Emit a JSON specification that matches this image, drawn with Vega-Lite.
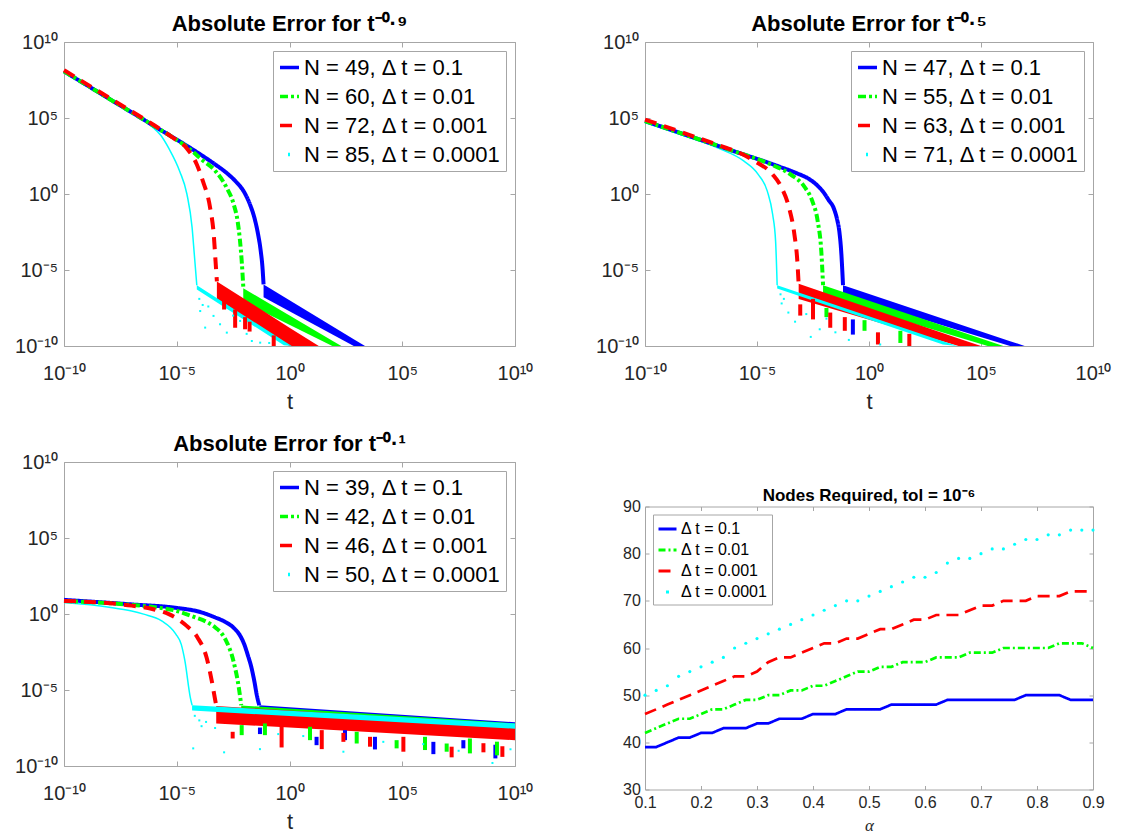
{
  "$schema": "https://vega.github.io/schema/vega-lite/v6.json",
  "background": "white",
  "padding": {"left": 14, "top": 12, "right": 0, "bottom": 0},
  "config": {
    "font": "Liberation Sans",
    "view": {"stroke": "#a6a6a6", "strokeWidth": 1},
    "axis": {"domain": false, "grid": false, "tickColor": "#a6a6a6", "tickWidth": 1, "labelColor": "#262626", "titleColor": "#262626", "titleFontWeight": "normal", "labelFont": "Liberation Sans", "titleFont": "Liberation Sans", "labelFlush": false, "labelOverlap": false},
    "title": {"font": "Liberation Sans", "fontWeight": "bold", "color": "#000000", "anchor": "middle"},
    "legend": {"labelFont": "Liberation Sans", "labelColor": "#000000", "strokeColor": "#a6a6a6", "fillColor": "#ffffff", "symbolType": "stroke", "labelLimit": 400, "cornerRadius": 0, "title": null}
  },
  "datasets": {
    "c1": [
      {"s":"b","lx":-10,"ly":8.07},{"s":"b","lx":-8,"ly":6.27},{"s":"b","lx":-6,"ly":4.47},{"s":"b","lx":-4,"ly":2.65},{"s":"b","lx":-3.3,"ly":1.95},{"s":"b","lx":-2.8,"ly":1.4},{"s":"b","lx":-2.4,"ly":0.85},{"s":"b","lx":-2.0,"ly":0.1},{"s":"b","lx":-1.75,"ly":-0.7},{"s":"b","lx":-1.55,"ly":-1.6},{"s":"b","lx":-1.4,"ly":-2.6},{"s":"b","lx":-1.28,"ly":-3.7},{"s":"b","lx":-1.2,"ly":-4.8},{"s":"b","lx":-1.15,"ly":-5.95},
      {"s":"g","lx":-10,"ly":8.07},{"s":"g","lx":-8,"ly":6.27},{"s":"g","lx":-6,"ly":4.47},{"s":"g","lx":-5,"ly":3.55},{"s":"g","lx":-4.5,"ly":3.05},{"s":"g","lx":-3.92,"ly":2.3},{"s":"g","lx":-3.28,"ly":1.5},{"s":"g","lx":-2.8,"ly":0.45},{"s":"g","lx":-2.48,"ly":-0.65},{"s":"g","lx":-2.3,"ly":-1.8},{"s":"g","lx":-2.2,"ly":-3.0},{"s":"g","lx":-2.12,"ly":-4.4},{"s":"g","lx":-2.05,"ly":-6.1},
      {"s":"r","lx":-10,"ly":8.15},{"s":"r","lx":-8,"ly":6.33},{"s":"r","lx":-6,"ly":4.52},{"s":"r","lx":-5.19,"ly":3.72},{"s":"r","lx":-4.55,"ly":3.0},{"s":"r","lx":-4.11,"ly":1.94},{"s":"r","lx":-3.84,"ly":0.84},{"s":"r","lx":-3.52,"ly":-0.91},{"s":"r","lx":-3.36,"ly":-2.66},{"s":"r","lx":-3.28,"ly":-4.41},{"s":"r","lx":-3.22,"ly":-5.75},
      {"s":"c","lx":-10,"ly":8.0},{"s":"c","lx":-8,"ly":6.2},{"s":"c","lx":-6.15,"ly":4.5},{"s":"c","lx":-5.7,"ly":3.85},{"s":"c","lx":-5.35,"ly":3.0},{"s":"c","lx":-4.87,"ly":1.5},{"s":"c","lx":-4.55,"ly":0.0},{"s":"c","lx":-4.32,"ly":-2.2},{"s":"c","lx":-4.22,"ly":-4.0},{"s":"c","lx":-4.11,"ly":-6.0}
    ],
    "b1": [
      {"s":"b","lx":-1.15,"hi":-5.95,"lo":-6.8},{"s":"b","lx":2.85,"hi":-9.55,"lo":-10},{"s":"b","lx":3.35,"hi":-10,"lo":-10},
      {"s":"g","lx":-2.05,"hi":-6.2,"lo":-7.1},{"s":"g","lx":1.9,"hi":-9.65,"lo":-10},{"s":"g","lx":2.3,"hi":-10,"lo":-10},
      {"s":"r","lx":-3.22,"hi":-5.75,"lo":-6.9},{"s":"r","lx":0.0,"hi":-8.8,"lo":-10},{"s":"r","lx":1.3,"hi":-10,"lo":-10},
      {"s":"c","lx":-4.11,"hi":-6.0,"lo":-6.28},{"s":"c","lx":-0.25,"hi":-9.67,"lo":-9.95},{"s":"c","lx":0.1,"hi":-10,"lo":-10}
    ],
    "k1": [
      {"s":"r","lx":-2.9,"hi":-7.0,"lo":-7.6},{"s":"r","lx":-2.41,"hi":-7.6,"lo":-8.8},{"s":"r","lx":-1.97,"hi":-8.1,"lo":-8.9},{"s":"r","lx":-1.77,"hi":-8.4,"lo":-9.05},{"s":"r","lx":-0.7,"hi":-9.3,"lo":-10}
    ],
    "d1": [
      {"lx":-3.96,"ly":-7.7},{"lx":-3.74,"ly":-8.79},{"lx":-3.08,"ly":-8.57},{"lx":-2.78,"ly":-9.12},{"lx":-1.67,"ly":-9.67},{"lx":-1.3,"ly":-9.78},{"lx":-3.37,"ly":-8.02},{"lx":-2.19,"ly":-8.35},{"lx":-3.6,"ly":-7.4},{"lx":-2.5,"ly":-8.0},{"lx":-1.9,"ly":-9.2},{"lx":-0.9,"ly":-9.8},{"lx":-4.0,"ly":-6.9},{"lx":-3.85,"ly":-7.3}
    ],
    "c2": [
      {"s":"b","lx":-10,"ly":4.8},{"s":"b","lx":-8,"ly":3.8},{"s":"b","lx":-6,"ly":2.8},{"s":"b","lx":-4,"ly":1.8},{"s":"b","lx":-3.2,"ly":1.35},{"s":"b","lx":-2.69,"ly":1.0},{"s":"b","lx":-2.3,"ly":0.55},{"s":"b","lx":-2.05,"ly":0.15},{"s":"b","lx":-1.8,"ly":-0.4},{"s":"b","lx":-1.57,"ly":-0.95},{"s":"b","lx":-1.42,"ly":-1.7},{"s":"b","lx":-1.33,"ly":-2.4},{"s":"b","lx":-1.24,"ly":-3.8},{"s":"b","lx":-1.16,"ly":-6.0},
      {"s":"g","lx":-10,"ly":4.8},{"s":"g","lx":-8,"ly":3.8},{"s":"g","lx":-6,"ly":2.8},{"s":"g","lx":-4.8,"ly":2.2},{"s":"g","lx":-4.3,"ly":1.9},{"s":"g","lx":-3.49,"ly":1.28},{"s":"g","lx":-2.85,"ly":0.41},{"s":"g","lx":-2.53,"ly":-0.47},{"s":"g","lx":-2.29,"ly":-1.79},{"s":"g","lx":-2.13,"ly":-3.76},{"s":"g","lx":-2.05,"ly":-6.0},
      {"s":"r","lx":-10,"ly":4.9},{"s":"r","lx":-8,"ly":3.88},{"s":"r","lx":-6.5,"ly":3.1},{"s":"r","lx":-5.6,"ly":2.58},{"s":"r","lx":-5.1,"ly":2.16},{"s":"r","lx":-4.3,"ly":1.28},{"s":"r","lx":-3.9,"ly":0.41},{"s":"r","lx":-3.57,"ly":-0.9},{"s":"r","lx":-3.33,"ly":-2.66},{"s":"r","lx":-3.2,"ly":-4.41},{"s":"r","lx":-3.14,"ly":-5.95},
      {"s":"c","lx":-10,"ly":4.7},{"s":"c","lx":-8,"ly":3.7},{"s":"c","lx":-7.2,"ly":3.3},{"s":"c","lx":-6.71,"ly":3.0},{"s":"c","lx":-5.58,"ly":2.16},{"s":"c","lx":-4.94,"ly":1.28},{"s":"c","lx":-4.54,"ly":0.19},{"s":"c","lx":-4.3,"ly":-1.35},{"s":"c","lx":-4.17,"ly":-3.1},{"s":"c","lx":-4.1,"ly":-6.0}
    ],
    "b2": [
      {"s":"b","lx":-1.16,"hi":-6.0,"lo":-6.65},{"s":"b","lx":6.3,"hi":-9.68,"lo":-10},{"s":"b","lx":6.95,"hi":-10,"lo":-10},
      {"s":"g","lx":-2.05,"hi":-6.0,"lo":-6.75},{"s":"g","lx":5.3,"hi":-9.65,"lo":-10},{"s":"g","lx":6.0,"hi":-10,"lo":-10},
      {"s":"r","lx":-3.14,"hi":-5.9,"lo":-6.9},{"s":"r","lx":4.0,"hi":-9.5,"lo":-10},{"s":"r","lx":5.0,"hi":-10,"lo":-10},
      {"s":"c","lx":-4.1,"hi":-6.0,"lo":-6.22},{"s":"c","lx":3.3,"hi":-9.68,"lo":-9.9},{"s":"c","lx":3.95,"hi":-10,"lo":-10}
    ],
    "k2": [
      {"s":"b","lx":-0.72,"hi":-8.25,"lo":-9.25},
      {"s":"g","lx":-1.9,"hi":-7.5,"lo":-8.1},{"s":"g","lx":-0.2,"hi":-8.3,"lo":-9.0},{"s":"g","lx":1.4,"hi":-9.0,"lo":-9.8},
      {"s":"r","lx":-3.07,"hi":-7.26,"lo":-8.0},{"s":"r","lx":-2.5,"hi":-6.9,"lo":-8.25},{"s":"r","lx":-1.73,"hi":-7.8,"lo":-8.8},{"s":"r","lx":-1.08,"hi":-8.1,"lo":-9.0},{"s":"r","lx":0.4,"hi":-9.1,"lo":-9.9},{"s":"r","lx":1.8,"hi":-9.2,"lo":-10}
    ],
    "d2": [
      {"lx":-3.9,"ly":-7.2},{"lx":-3.6,"ly":-7.8},{"lx":-3.3,"ly":-8.4},{"lx":-2.8,"ly":-7.9},{"lx":-2.2,"ly":-8.9},{"lx":-1.5,"ly":-9.1},{"lx":-3.8,"ly":-6.9},{"lx":-0.9,"ly":-9.6},{"lx":0.5,"ly":-9.9},{"lx":-2.6,"ly":-9.4},{"lx":-3.95,"ly":-6.6},{"lx":-1.9,"ly":-8.2}
    ],
    "c3": [
      {"s":"b","lx":-10,"ly":0.93},{"s":"b","lx":-7,"ly":0.63},{"s":"b","lx":-5,"ly":0.4},{"s":"b","lx":-4,"ly":0.15},{"s":"b","lx":-3.29,"ly":-0.23},{"s":"b","lx":-2.85,"ly":-0.52},{"s":"b","lx":-2.49,"ly":-0.89},{"s":"b","lx":-2.2,"ly":-1.4},{"s":"b","lx":-2.01,"ly":-1.98},{"s":"b","lx":-1.85,"ly":-2.7},{"s":"b","lx":-1.69,"ly":-3.51},{"s":"b","lx":-1.55,"ly":-4.5},{"s":"b","lx":-1.46,"ly":-5.26},{"s":"b","lx":-1.34,"ly":-6.0},
      {"s":"g","lx":-10,"ly":0.86},{"s":"g","lx":-7,"ly":0.6},{"s":"g","lx":-6,"ly":0.45},{"s":"g","lx":-5,"ly":0.2},{"s":"g","lx":-4.24,"ly":-0.19},{"s":"g","lx":-3.7,"ly":-0.5},{"s":"g","lx":-3.29,"ly":-0.89},{"s":"g","lx":-3.0,"ly":-1.3},{"s":"g","lx":-2.81,"ly":-1.76},{"s":"g","lx":-2.49,"ly":-3.07},{"s":"g","lx":-2.25,"ly":-4.82},{"s":"g","lx":-2.14,"ly":-6.0},
      {"s":"r","lx":-10,"ly":0.86},{"s":"r","lx":-7,"ly":0.55},{"s":"r","lx":-6,"ly":0.3},{"s":"r","lx":-5.35,"ly":-0.01},{"s":"r","lx":-4.56,"ly":-0.78},{"s":"r","lx":-4.08,"ly":-1.54},{"s":"r","lx":-3.68,"ly":-2.85},{"s":"r","lx":-3.45,"ly":-4.38},{"s":"r","lx":-3.29,"ly":-5.7},{"s":"r","lx":-3.25,"ly":-6.0},
      {"s":"c","lx":-10,"ly":0.75},{"s":"c","lx":-8,"ly":0.45},{"s":"c","lx":-7,"ly":0.2},{"s":"c","lx":-6.47,"ly":-0.01},{"s":"c","lx":-5.67,"ly":-0.45},{"s":"c","lx":-5.04,"ly":-1.32},{"s":"c","lx":-4.8,"ly":-2.0},{"s":"c","lx":-4.64,"ly":-3.07},{"s":"c","lx":-4.4,"ly":-5.48},{"s":"c","lx":-4.32,"ly":-6.0}
    ],
    "b3": [
      {"s":"b","lx":-1.34,"hi":-6.0,"lo":-6.8},{"s":"b","lx":10,"hi":-7.12,"lo":-7.9},
      {"s":"g","lx":-2.14,"hi":-6.02,"lo":-7.0},{"s":"g","lx":10,"hi":-7.2,"lo":-8.1},
      {"s":"r","lx":-3.25,"hi":-6.05,"lo":-7.2},{"s":"r","lx":10,"hi":-7.3,"lo":-8.3},
      {"s":"c","lx":-4.32,"hi":-6.0,"lo":-6.35},{"s":"c","lx":10,"hi":-7.2,"lo":-7.55}
    ],
    "k3": [
      {"s":"b","lx":-1.31,"hi":-7.47,"lo":-7.9},{"s":"b","lx":1.2,"hi":-8.08,"lo":-8.63},{"s":"b","lx":2.46,"hi":-7.64,"lo":-8.3},{"s":"b","lx":3.79,"hi":-8.08,"lo":-8.91},{"s":"b","lx":6.38,"hi":-8.41,"lo":-9.22},{"s":"b","lx":7.71,"hi":-8.3,"lo":-8.84},{"s":"b","lx":9.13,"hi":-8.6,"lo":-9.5},
      {"s":"g","lx":-2.12,"hi":-7.31,"lo":-7.97},{"s":"g","lx":-1.09,"hi":-7.2,"lo":-7.97},{"s":"g","lx":0.91,"hi":-7.42,"lo":-8.3},{"s":"g","lx":2.98,"hi":-7.75,"lo":-8.52},{"s":"g","lx":4.75,"hi":-8.3,"lo":-8.84},{"s":"g","lx":6.01,"hi":-8.08,"lo":-8.95},{"s":"g","lx":6.97,"hi":-8.52,"lo":-9.06},{"s":"g","lx":8.0,"hi":-8.19,"lo":-9.17},{"s":"g","lx":9.2,"hi":-8.4,"lo":-9.3},
      {"s":"r","lx":-2.52,"hi":-7.75,"lo":-8.19},{"s":"r","lx":-0.35,"hi":-7.31,"lo":-8.78},{"s":"r","lx":1.43,"hi":-7.64,"lo":-8.89},{"s":"r","lx":2.39,"hi":-7.82,"lo":-8.41},{"s":"r","lx":3.57,"hi":-8.08,"lo":-8.73},{"s":"r","lx":5.05,"hi":-8.08,"lo":-9.06},{"s":"r","lx":7.19,"hi":-8.73,"lo":-9.43},{"s":"r","lx":8.6,"hi":-8.5,"lo":-9.1},{"s":"r","lx":9.44,"hi":-8.7,"lo":-9.4}
    ],
    "d3": [
      {"lx":-4.27,"ly":-8.84},{"lx":-3.9,"ly":-7.38},{"lx":-1.31,"ly":-8.89},{"lx":0.61,"ly":-8.03},{"lx":2.39,"ly":-9.06},{"lx":4.16,"ly":-8.41},{"lx":5.93,"ly":-8.56},{"lx":-4.2,"ly":-6.7},{"lx":-4.0,"ly":-7.0},{"lx":-3.7,"ly":-7.1},{"lx":-3.3,"ly":-7.5},{"lx":-2.9,"ly":-9.1},{"lx":9.0,"ly":-9.8},{"lx":9.8,"ly":-8.9},{"lx":7.5,"ly":-9.0},{"lx":-0.5,"ly":-7.9}
    ],
    "n4": [
      {"s":"b","a":0.1,"n":39},{"s":"b","a":0.12,"n":39},{"s":"b","a":0.14,"n":40},{"s":"b","a":0.16,"n":41},{"s":"b","a":0.18,"n":41},{"s":"b","a":0.2,"n":42},{"s":"b","a":0.22,"n":42},{"s":"b","a":0.24,"n":43},{"s":"b","a":0.26,"n":43},{"s":"b","a":0.28,"n":43},{"s":"b","a":0.3,"n":44},{"s":"b","a":0.32,"n":44},{"s":"b","a":0.34,"n":45},{"s":"b","a":0.36,"n":45},{"s":"b","a":0.38,"n":45},{"s":"b","a":0.4,"n":46},{"s":"b","a":0.42,"n":46},{"s":"b","a":0.44,"n":46},{"s":"b","a":0.46,"n":47},{"s":"b","a":0.48,"n":47},{"s":"b","a":0.5,"n":47},{"s":"b","a":0.52,"n":47},{"s":"b","a":0.54,"n":48},{"s":"b","a":0.56,"n":48},{"s":"b","a":0.58,"n":48},{"s":"b","a":0.6,"n":48},{"s":"b","a":0.62,"n":48},{"s":"b","a":0.64,"n":49},{"s":"b","a":0.66,"n":49},{"s":"b","a":0.68,"n":49},{"s":"b","a":0.7,"n":49},{"s":"b","a":0.72,"n":49},{"s":"b","a":0.74,"n":49},{"s":"b","a":0.76,"n":49},{"s":"b","a":0.78,"n":50},{"s":"b","a":0.8,"n":50},{"s":"b","a":0.82,"n":50},{"s":"b","a":0.84,"n":50},{"s":"b","a":0.86,"n":49},{"s":"b","a":0.88,"n":49},{"s":"b","a":0.9,"n":49},
      {"s":"g","a":0.1,"n":42},{"s":"g","a":0.12,"n":43},{"s":"g","a":0.14,"n":44},{"s":"g","a":0.16,"n":45},{"s":"g","a":0.18,"n":45},{"s":"g","a":0.2,"n":46},{"s":"g","a":0.22,"n":47},{"s":"g","a":0.24,"n":47},{"s":"g","a":0.26,"n":48},{"s":"g","a":0.28,"n":49},{"s":"g","a":0.3,"n":49},{"s":"g","a":0.32,"n":50},{"s":"g","a":0.34,"n":50},{"s":"g","a":0.36,"n":51},{"s":"g","a":0.38,"n":51},{"s":"g","a":0.4,"n":52},{"s":"g","a":0.42,"n":52},{"s":"g","a":0.44,"n":53},{"s":"g","a":0.46,"n":54},{"s":"g","a":0.48,"n":55},{"s":"g","a":0.5,"n":55},{"s":"g","a":0.52,"n":56},{"s":"g","a":0.54,"n":56},{"s":"g","a":0.56,"n":57},{"s":"g","a":0.58,"n":57},{"s":"g","a":0.6,"n":57},{"s":"g","a":0.62,"n":58},{"s":"g","a":0.64,"n":58},{"s":"g","a":0.66,"n":58},{"s":"g","a":0.68,"n":59},{"s":"g","a":0.7,"n":59},{"s":"g","a":0.72,"n":59},{"s":"g","a":0.74,"n":60},{"s":"g","a":0.76,"n":60},{"s":"g","a":0.78,"n":60},{"s":"g","a":0.8,"n":60},{"s":"g","a":0.82,"n":60},{"s":"g","a":0.84,"n":61},{"s":"g","a":0.86,"n":61},{"s":"g","a":0.88,"n":61},{"s":"g","a":0.9,"n":60},
      {"s":"r","a":0.1,"n":46},{"s":"r","a":0.12,"n":47},{"s":"r","a":0.14,"n":48},{"s":"r","a":0.16,"n":49},{"s":"r","a":0.18,"n":50},{"s":"r","a":0.2,"n":51},{"s":"r","a":0.22,"n":52},{"s":"r","a":0.24,"n":53},{"s":"r","a":0.26,"n":54},{"s":"r","a":0.28,"n":54},{"s":"r","a":0.3,"n":55},{"s":"r","a":0.32,"n":57},{"s":"r","a":0.34,"n":58},{"s":"r","a":0.36,"n":58},{"s":"r","a":0.38,"n":59},{"s":"r","a":0.4,"n":60},{"s":"r","a":0.42,"n":61},{"s":"r","a":0.44,"n":61},{"s":"r","a":0.46,"n":62},{"s":"r","a":0.48,"n":62},{"s":"r","a":0.5,"n":63},{"s":"r","a":0.52,"n":64},{"s":"r","a":0.54,"n":64},{"s":"r","a":0.56,"n":65},{"s":"r","a":0.58,"n":66},{"s":"r","a":0.6,"n":66},{"s":"r","a":0.62,"n":67},{"s":"r","a":0.64,"n":67},{"s":"r","a":0.66,"n":67},{"s":"r","a":0.68,"n":68},{"s":"r","a":0.7,"n":69},{"s":"r","a":0.72,"n":69},{"s":"r","a":0.74,"n":70},{"s":"r","a":0.76,"n":70},{"s":"r","a":0.78,"n":70},{"s":"r","a":0.8,"n":71},{"s":"r","a":0.82,"n":71},{"s":"r","a":0.84,"n":71},{"s":"r","a":0.86,"n":72},{"s":"r","a":0.88,"n":72},{"s":"r","a":0.9,"n":72},
      {"s":"c","a":0.1,"n":50},{"s":"c","a":0.12,"n":51},{"s":"c","a":0.14,"n":52},{"s":"c","a":0.16,"n":54},{"s":"c","a":0.18,"n":55},{"s":"c","a":0.2,"n":56},{"s":"c","a":0.22,"n":57},{"s":"c","a":0.24,"n":58},{"s":"c","a":0.26,"n":60},{"s":"c","a":0.28,"n":61},{"s":"c","a":0.3,"n":62},{"s":"c","a":0.32,"n":63},{"s":"c","a":0.34,"n":64},{"s":"c","a":0.36,"n":65},{"s":"c","a":0.38,"n":66},{"s":"c","a":0.4,"n":67},{"s":"c","a":0.42,"n":68},{"s":"c","a":0.44,"n":69},{"s":"c","a":0.46,"n":70},{"s":"c","a":0.48,"n":70},{"s":"c","a":0.5,"n":71},{"s":"c","a":0.52,"n":72},{"s":"c","a":0.54,"n":73},{"s":"c","a":0.56,"n":74},{"s":"c","a":0.58,"n":75},{"s":"c","a":0.6,"n":75},{"s":"c","a":0.62,"n":76},{"s":"c","a":0.64,"n":78},{"s":"c","a":0.66,"n":79},{"s":"c","a":0.68,"n":79},{"s":"c","a":0.7,"n":80},{"s":"c","a":0.72,"n":81},{"s":"c","a":0.74,"n":81},{"s":"c","a":0.76,"n":82},{"s":"c","a":0.78,"n":83},{"s":"c","a":0.8,"n":83},{"s":"c","a":0.82,"n":84},{"s":"c","a":0.84,"n":84},{"s":"c","a":0.86,"n":85},{"s":"c","a":0.88,"n":85},{"s":"c","a":0.9,"n":85}
    ]
  },
  "resolve": {"scale": {"color": "independent", "strokeDash": "independent"}},
  "spacing": 61,
  "hconcat": [
    {
      "spacing": 19,
      "resolve": {"scale": {"color": "independent", "strokeDash": "independent"}},
      "vconcat": [
        {
          "width": 451, "height": 304,
          "title": {"text": "Absolute Error for t⁻⁰·⁹", "fontSize": 22, "offset": -4},
          "resolve": {"axis": {"x": "independent", "y": "independent"}},
          "layer": [
            {"mark": {"type": "rule", "color": "#999999", "strokeWidth": 1, "strokeDash": [5, 3]}, "encoding": {"y": {"datum": -6, "type": "quantitative", "scale": {"domain": [-10, 10], "nice": false, "zero": false}, "axis": null}}},
            {"data": {"name": "b1"}, "mark": {"type": "area", "clip": true, "opacity": 1}, "encoding": {
              "x": {"field": "lx", "type": "quantitative", "scale": {"domain": [-10, 10], "nice": false, "zero": false}, "axis": {"orient": "top", "values": [-10, -5, 0, 5, 10], "labels": false, "tickSize": -5, "title": null}},
              "y": {"field": "hi", "type": "quantitative", "stack": null, "axis": {"orient": "right", "values": [-10, -5, 0, 5, 10], "labels": false, "tickSize": -5, "title": null}},
              "y2": {"field": "lo"},
              "fill": {"field": "s", "type": "nominal", "scale": {"domain": ["b", "g", "r", "c"], "range": ["#0000ff", "#00ff00", "#ff0000", "#00ffff"]}, "legend": null}}},
            {"data": {"name": "k1"}, "mark": {"type": "rule", "strokeWidth": 4, "clip": true}, "encoding": {
              "x": {"field": "lx", "type": "quantitative", "axis": null},
              "y": {"field": "hi", "type": "quantitative", "axis": null},
              "y2": {"field": "lo"},
              "stroke": {"field": "s", "type": "nominal", "scale": {"domain": ["b", "g", "r", "c"], "range": ["#0000ff", "#00ff00", "#ff0000", "#00ffff"]}, "legend": null}}},
            {"data": {"name": "d1"}, "mark": {"type": "square", "size": 4, "color": "#00ffff", "opacity": 1}, "encoding": {
              "x": {"field": "lx", "type": "quantitative", "axis": null},
              "y": {"field": "ly", "type": "quantitative", "axis": null}}},
            {"data": {"name": "c1"}, "transform": [{"filter": "datum.s == 'c'"}], "mark": {"type": "line", "color": "#00ffff", "strokeWidth": 1.5, "interpolate": "monotone"}, "encoding": {
              "x": {"field": "lx", "type": "quantitative", "axis": null},
              "y": {"field": "ly", "type": "quantitative", "axis": null}}},
            {"data": {"name": "c1"}, "transform": [{"filter": "datum.s != 'c'"}], "mark": {"type": "line", "strokeWidth": 4, "interpolate": "monotone"}, "encoding": {
              "x": {"field": "lx", "type": "quantitative", "axis": {"orient": "bottom", "values": [-10, -5, 0, 5, 10], "labelExpr": "datum.value == -10 ? '10⁻¹⁰' : datum.value == -5 ? '10⁻⁵' : datum.value == 0 ? '10⁰' : datum.value == 5 ? '10⁵' : '10¹⁰'", "labelFontSize": 20, "labelPadding": 22, "tickSize": -5, "title": "t", "titleFontSize": 22, "titlePadding": 8}},
              "y": {"field": "ly", "type": "quantitative", "axis": {"orient": "left", "values": [-10, -5, 0, 5, 10], "labelExpr": "datum.value == -10 ? '10⁻¹⁰' : datum.value == -5 ? '10⁻⁵' : datum.value == 0 ? '10⁰' : datum.value == 5 ? '10⁵' : '10¹⁰'", "labelFontSize": 20, "labelPadding": 11.5, "tickSize": -5, "title": null}},
              "color": {"field": "s", "type": "nominal", "scale": {"domain": ["b", "g", "r", "c"], "range": ["#0000ff", "#00ff00", "#ff0000", "#00ffff"]}, "legend": {"orient": "top-right", "offset": 9, "labelFontSize": 22, "symbolSize": 361, "symbolStrokeWidth": 3.5, "padding": 5, "rowPadding": 6, "labelOffset": 3, "labelExpr": "datum.label == 'b' ? 'N = 49, Δ t = 0.1' : datum.label == 'g' ? 'N = 60, Δ t = 0.01' : datum.label == 'r' ? 'N = 72, Δ t = 0.001' : 'N = 85, Δ t = 0.0001'"}},
              "strokeDash": {"field": "s", "type": "nominal", "scale": {"domain": ["b", "g", "r", "c"], "range": [[1, 0], [8, 3, 3, 3], [12, 8], [0, 8, 2, 40]]}, "legend": {"orient": "top-right", "offset": 9, "labelFontSize": 22, "symbolSize": 361, "symbolStrokeWidth": 3.5, "padding": 5, "rowPadding": 6, "labelOffset": 3, "labelExpr": "datum.label == 'b' ? 'N = 49, Δ t = 0.1' : datum.label == 'g' ? 'N = 60, Δ t = 0.01' : datum.label == 'r' ? 'N = 72, Δ t = 0.001' : 'N = 85, Δ t = 0.0001'"}}}}
          ]
        },
        {
          "width": 451, "height": 304,
          "title": {"text": "Absolute Error for t⁻⁰·¹", "fontSize": 22, "offset": -4},
          "resolve": {"axis": {"x": "independent", "y": "independent"}},
          "layer": [
            {"mark": {"type": "rule", "color": "#999999", "strokeWidth": 1, "strokeDash": [5, 3]}, "encoding": {"y": {"datum": -6, "type": "quantitative", "scale": {"domain": [-10, 10], "nice": false, "zero": false}, "axis": null}}},
            {"data": {"name": "b3"}, "mark": {"type": "area", "clip": true, "opacity": 1}, "encoding": {
              "x": {"field": "lx", "type": "quantitative", "scale": {"domain": [-10, 10], "nice": false, "zero": false}, "axis": {"orient": "top", "values": [-10, -5, 0, 5, 10], "labels": false, "tickSize": -5, "title": null}},
              "y": {"field": "hi", "type": "quantitative", "stack": null, "axis": {"orient": "right", "values": [-10, -5, 0, 5, 10], "labels": false, "tickSize": -5, "title": null}},
              "y2": {"field": "lo"},
              "fill": {"field": "s", "type": "nominal", "scale": {"domain": ["b", "g", "r", "c"], "range": ["#0000ff", "#00ff00", "#ff0000", "#00ffff"]}, "legend": null}}},
            {"data": {"name": "k3"}, "mark": {"type": "rule", "strokeWidth": 4, "clip": true}, "encoding": {
              "x": {"field": "lx", "type": "quantitative", "axis": null},
              "y": {"field": "hi", "type": "quantitative", "axis": null},
              "y2": {"field": "lo"},
              "stroke": {"field": "s", "type": "nominal", "scale": {"domain": ["b", "g", "r", "c"], "range": ["#0000ff", "#00ff00", "#ff0000", "#00ffff"]}, "legend": null}}},
            {"data": {"name": "d3"}, "mark": {"type": "square", "size": 4, "color": "#00ffff", "opacity": 1}, "encoding": {
              "x": {"field": "lx", "type": "quantitative", "axis": null},
              "y": {"field": "ly", "type": "quantitative", "axis": null}}},
            {"data": {"name": "c3"}, "transform": [{"filter": "datum.s == 'c'"}], "mark": {"type": "line", "color": "#00ffff", "strokeWidth": 1.5, "interpolate": "monotone"}, "encoding": {
              "x": {"field": "lx", "type": "quantitative", "axis": null},
              "y": {"field": "ly", "type": "quantitative", "axis": null}}},
            {"data": {"name": "c3"}, "transform": [{"filter": "datum.s != 'c'"}], "mark": {"type": "line", "strokeWidth": 4, "interpolate": "monotone"}, "encoding": {
              "x": {"field": "lx", "type": "quantitative", "axis": {"orient": "bottom", "values": [-10, -5, 0, 5, 10], "labelExpr": "datum.value == -10 ? '10⁻¹⁰' : datum.value == -5 ? '10⁻⁵' : datum.value == 0 ? '10⁰' : datum.value == 5 ? '10⁵' : '10¹⁰'", "labelFontSize": 20, "labelPadding": 22, "tickSize": -5, "title": "t", "titleFontSize": 22, "titlePadding": 8}},
              "y": {"field": "ly", "type": "quantitative", "axis": {"orient": "left", "values": [-10, -5, 0, 5, 10], "labelExpr": "datum.value == -10 ? '10⁻¹⁰' : datum.value == -5 ? '10⁻⁵' : datum.value == 0 ? '10⁰' : datum.value == 5 ? '10⁵' : '10¹⁰'", "labelFontSize": 20, "labelPadding": 11.5, "tickSize": -5, "title": null}},
              "color": {"field": "s", "type": "nominal", "scale": {"domain": ["b", "g", "r", "c"], "range": ["#0000ff", "#00ff00", "#ff0000", "#00ffff"]}, "legend": {"orient": "top-right", "offset": 9, "labelFontSize": 22, "symbolSize": 361, "symbolStrokeWidth": 3.5, "padding": 5, "rowPadding": 6, "labelOffset": 3, "labelExpr": "datum.label == 'b' ? 'N = 39, Δ t = 0.1' : datum.label == 'g' ? 'N = 42, Δ t = 0.01' : datum.label == 'r' ? 'N = 46, Δ t = 0.001' : 'N = 50, Δ t = 0.0001'"}},
              "strokeDash": {"field": "s", "type": "nominal", "scale": {"domain": ["b", "g", "r", "c"], "range": [[1, 0], [8, 3, 3, 3], [12, 8], [0, 8, 2, 40]]}, "legend": {"orient": "top-right", "offset": 9, "labelFontSize": 22, "symbolSize": 361, "symbolStrokeWidth": 3.5, "padding": 5, "rowPadding": 6, "labelOffset": 3, "labelExpr": "datum.label == 'b' ? 'N = 39, Δ t = 0.1' : datum.label == 'g' ? 'N = 42, Δ t = 0.01' : datum.label == 'r' ? 'N = 46, Δ t = 0.001' : 'N = 50, Δ t = 0.0001'"}}}}
          ]
        }
      ]
    },
    {
      "spacing": 72.5,
      "resolve": {"scale": {"color": "independent", "strokeDash": "independent"}},
      "vconcat": [
        {
          "width": 448, "height": 304,
          "title": {"text": "Absolute Error for t⁻⁰·⁵", "fontSize": 22, "offset": -4},
          "resolve": {"axis": {"x": "independent", "y": "independent"}},
          "layer": [
            {"mark": {"type": "rule", "color": "#999999", "strokeWidth": 1, "strokeDash": [5, 3]}, "encoding": {"y": {"datum": -6, "type": "quantitative", "scale": {"domain": [-10, 10], "nice": false, "zero": false}, "axis": null}}},
            {"data": {"name": "b2"}, "mark": {"type": "area", "clip": true, "opacity": 1}, "encoding": {
              "x": {"field": "lx", "type": "quantitative", "scale": {"domain": [-10, 10], "nice": false, "zero": false}, "axis": {"orient": "top", "values": [-10, -5, 0, 5, 10], "labels": false, "tickSize": -5, "title": null}},
              "y": {"field": "hi", "type": "quantitative", "stack": null, "axis": {"orient": "right", "values": [-10, -5, 0, 5, 10], "labels": false, "tickSize": -5, "title": null}},
              "y2": {"field": "lo"},
              "fill": {"field": "s", "type": "nominal", "scale": {"domain": ["b", "g", "r", "c"], "range": ["#0000ff", "#00ff00", "#ff0000", "#00ffff"]}, "legend": null}}},
            {"data": {"name": "k2"}, "mark": {"type": "rule", "strokeWidth": 4, "clip": true}, "encoding": {
              "x": {"field": "lx", "type": "quantitative", "axis": null},
              "y": {"field": "hi", "type": "quantitative", "axis": null},
              "y2": {"field": "lo"},
              "stroke": {"field": "s", "type": "nominal", "scale": {"domain": ["b", "g", "r", "c"], "range": ["#0000ff", "#00ff00", "#ff0000", "#00ffff"]}, "legend": null}}},
            {"data": {"name": "d2"}, "mark": {"type": "square", "size": 4, "color": "#00ffff", "opacity": 1}, "encoding": {
              "x": {"field": "lx", "type": "quantitative", "axis": null},
              "y": {"field": "ly", "type": "quantitative", "axis": null}}},
            {"data": {"name": "c2"}, "transform": [{"filter": "datum.s == 'c'"}], "mark": {"type": "line", "color": "#00ffff", "strokeWidth": 1.5, "interpolate": "monotone"}, "encoding": {
              "x": {"field": "lx", "type": "quantitative", "axis": null},
              "y": {"field": "ly", "type": "quantitative", "axis": null}}},
            {"data": {"name": "c2"}, "transform": [{"filter": "datum.s != 'c'"}], "mark": {"type": "line", "strokeWidth": 4, "interpolate": "monotone"}, "encoding": {
              "x": {"field": "lx", "type": "quantitative", "axis": {"orient": "bottom", "values": [-10, -5, 0, 5, 10], "labelExpr": "datum.value == -10 ? '10⁻¹⁰' : datum.value == -5 ? '10⁻⁵' : datum.value == 0 ? '10⁰' : datum.value == 5 ? '10⁵' : '10¹⁰'", "labelFontSize": 20, "labelPadding": 22, "tickSize": -5, "title": "t", "titleFontSize": 22, "titlePadding": 8}},
              "y": {"field": "ly", "type": "quantitative", "axis": {"orient": "left", "values": [-10, -5, 0, 5, 10], "labelExpr": "datum.value == -10 ? '10⁻¹⁰' : datum.value == -5 ? '10⁻⁵' : datum.value == 0 ? '10⁰' : datum.value == 5 ? '10⁵' : '10¹⁰'", "labelFontSize": 20, "labelPadding": 11.5, "tickSize": -5, "title": null}},
              "color": {"field": "s", "type": "nominal", "scale": {"domain": ["b", "g", "r", "c"], "range": ["#0000ff", "#00ff00", "#ff0000", "#00ffff"]}, "legend": {"orient": "top-right", "offset": 9, "labelFontSize": 22, "symbolSize": 361, "symbolStrokeWidth": 3.5, "padding": 5, "rowPadding": 6, "labelOffset": 3, "labelExpr": "datum.label == 'b' ? 'N = 47, Δ t = 0.1' : datum.label == 'g' ? 'N = 55, Δ t = 0.01' : datum.label == 'r' ? 'N = 63, Δ t = 0.001' : 'N = 71, Δ t = 0.0001'"}},
              "strokeDash": {"field": "s", "type": "nominal", "scale": {"domain": ["b", "g", "r", "c"], "range": [[1, 0], [8, 3, 3, 3], [12, 8], [0, 8, 2, 40]]}, "legend": {"orient": "top-right", "offset": 9, "labelFontSize": 22, "symbolSize": 361, "symbolStrokeWidth": 3.5, "padding": 5, "rowPadding": 6, "labelOffset": 3, "labelExpr": "datum.label == 'b' ? 'N = 47, Δ t = 0.1' : datum.label == 'g' ? 'N = 55, Δ t = 0.01' : datum.label == 'r' ? 'N = 63, Δ t = 0.001' : 'N = 71, Δ t = 0.0001'"}}}}
          ]
        },
        {
          "width": 448, "height": 283,
          "title": {"text": "Nodes Required, tol = 10⁻⁶", "fontSize": 17, "offset": -6},
          "data": {"name": "n4"},
          "resolve": {"axis": {"x": "independent", "y": "independent"}},
          "layer": [
            {"transform": [{"filter": "datum.s != 'c'"}], "mark": {"type": "line", "strokeWidth": 2.7}, "encoding": {
              "x": {"field": "a", "type": "quantitative", "scale": {"domain": [0.1, 0.9], "nice": false, "zero": false}, "axis": {"orient": "bottom", "values": [0.1, 0.2, 0.3, 0.4, 0.5, 0.6, 0.7, 0.8, 0.9], "format": ".1f", "labelFontSize": 16, "labelPadding": 9, "tickSize": -4, "title": "α", "titleFont": "Liberation Serif", "titleFontStyle": "italic", "titleFontSize": 17, "titlePadding": 7}},
              "y": {"field": "n", "type": "quantitative", "scale": {"domain": [30, 90], "nice": false, "zero": false}, "axis": {"orient": "left", "values": [30, 40, 50, 60, 70, 80, 90], "labelFontSize": 16, "labelPadding": 8.7, "tickSize": -4, "title": null}},
              "color": {"field": "s", "type": "nominal", "scale": {"domain": ["b", "g", "r", "c"], "range": ["#0000ff", "#00ff00", "#ff0000", "#00ffff"]}, "legend": {"orient": "top-left", "offset": 8, "labelFontSize": 16, "symbolSize": 324, "symbolStrokeWidth": 3, "padding": 4, "rowPadding": 2, "labelOffset": 3, "labelExpr": "datum.label == 'b' ? 'Δ t = 0.1' : datum.label == 'g' ? 'Δ t = 0.01' : datum.label == 'r' ? 'Δ t = 0.001' : 'Δ t = 0.0001'"}},
              "strokeDash": {"field": "s", "type": "nominal", "scale": {"domain": ["b", "g", "r", "c"], "range": [[1, 0], [7, 3, 2, 3], [12, 7], [0, 7.5, 3, 40]]}, "legend": {"orient": "top-left", "offset": 8, "labelFontSize": 16, "symbolSize": 324, "symbolStrokeWidth": 3, "padding": 4, "rowPadding": 2, "labelOffset": 3, "labelExpr": "datum.label == 'b' ? 'Δ t = 0.1' : datum.label == 'g' ? 'Δ t = 0.01' : datum.label == 'r' ? 'Δ t = 0.001' : 'Δ t = 0.0001'"}}}},
            {"transform": [{"filter": "datum.s == 'c'"}], "mark": {"type": "circle", "size": 10, "color": "#00ffff", "opacity": 1}, "encoding": {
              "x": {"field": "a", "type": "quantitative", "axis": {"orient": "top", "values": [0.1, 0.2, 0.3, 0.4, 0.5, 0.6, 0.7, 0.8, 0.9], "labels": false, "tickSize": -4, "title": null}},
              "y": {"field": "n", "type": "quantitative", "axis": {"orient": "right", "values": [30, 40, 50, 60, 70, 80, 90], "labels": false, "tickSize": -4, "title": null}}}}
          ]
        }
      ]
    }
  ]
}
